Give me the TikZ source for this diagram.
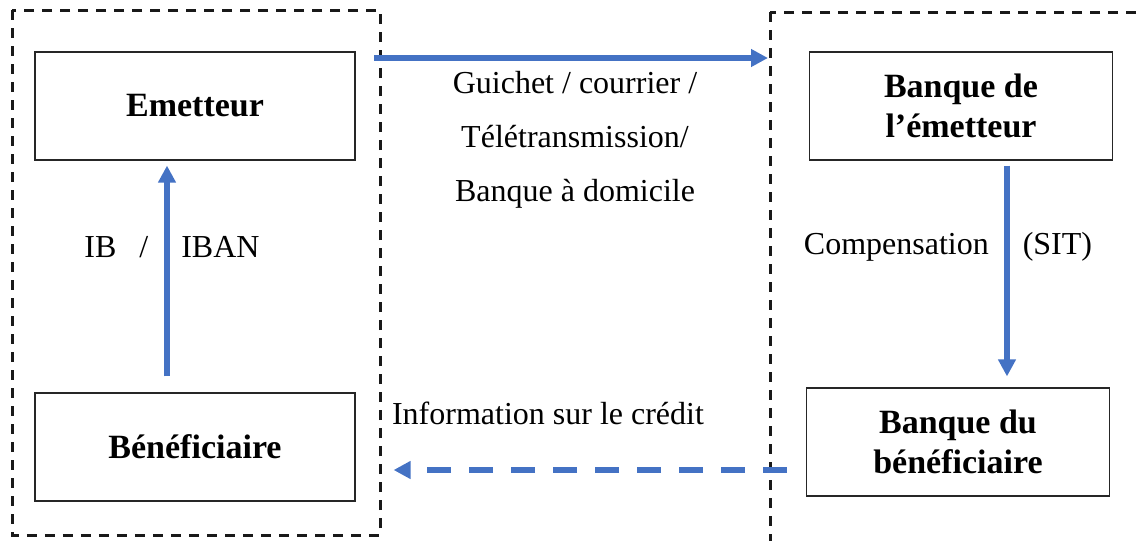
\documentclass[tikz,border=0pt]{standalone}
\usepackage{fontspec}
\setmainfont{Liberation Serif}
\usepackage{tikz}
\usetikzlibrary{arrows.meta,positioning}
\definecolor{flowblue}{HTML}{4472C4}
\tikzset{
	box/.style={
		draw=black!85,
		line width=0.6pt,
		minimum width=160pt,
		minimum height=54pt,
		align=center,
		font=\fontsize{17}{20}\selectfont\bfseries
	},
	bank/.style={
		box,
		minimum width=151.5pt
	},
	group/.style={
		draw=black!90,
		line width=1.5pt,
		dash pattern=on 5pt off 4pt
	},
	flow/.style={
		draw=flowblue,
		line width=2.7pt,
		-{Triangle[length=8.5pt,width=8.5pt]}
	},
	lbl/.style={
		font=\fontsize{16}{27}\selectfont,
		align=center
	}
}

\begin{document}
\begin{tikzpicture}[x=0.5pt,y=-0.5pt]
		\useasboundingbox (0,0) rectangle (1137,541);
		% groupes
		\draw[group] (12,10) rectangle (380,535);
		\begin{scope}
			\clip (0,0) rectangle (1137,541);
			\draw[group] (770,12) rectangle (1160,570);
		\end{scope}
		% acteurs
		\node[box] (emet) at (195,106) {Emetteur};
		\node[box] (benef) at (195,447) {Bénéficiaire};
		\node[bank] (bqemet) at (961,106) {Banque de\\l’émetteur};
		\node[bank] (bqbenef) at (958,442) {Banque du\\bénéficiaire};
		\coordinate (out) at (374,58);
		\coordinate (in) at (768,58);
		\coordinate (ret) at (787,470);
		% flux
		\draw[flow] (out) -- (in);
		\draw[flow, shorten <=8pt, shorten >=2.5pt] ([xshift=-14pt]benef.north) -- ([xshift=-14pt]emet.south);
		\draw[flow, shorten <=2.5pt, shorten >=5.5pt] ([xshift=23pt]bqemet.south) -- ([xshift=23pt]bqemet.south |- bqbenef.north);
		\draw[flow, dash pattern=on 12pt off 9pt, shorten >=19pt] (ret) -- (ret -| benef.east);
		% textes
		\node[lbl] (via) at (575,140) {Guichet / courrier /\\Télétransmission/\\Banque à domicile};
		\node[lbl] (ib) at (172,247) {IB\hspace{11.5pt}/\hspace{16.5pt}IBAN};
		\node[lbl] (comp) at (948,247) {Compensation\hspace{17pt}(SIT)};
		\node[lbl] (info) at (548,413) {Information sur le crédit};
\end{tikzpicture}
\end{document}
